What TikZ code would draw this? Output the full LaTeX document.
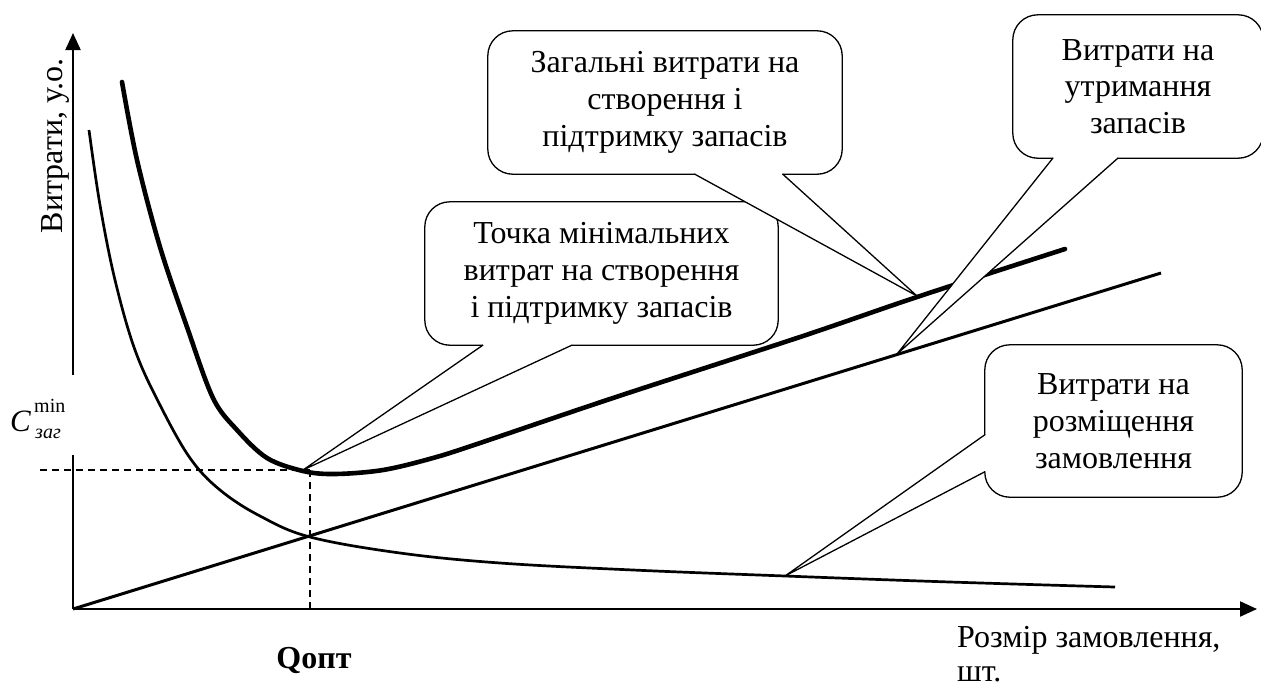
\documentclass[tikz,border=0pt]{standalone}
\usepackage{fontspec}
\setmainfont{Liberation Serif}
\usetikzlibrary{arrows.meta,calc}
\begin{document}
\begin{tikzpicture}[x=1pt,y=-1pt,
  lbl/.style={font=\fontsize{32}{36.8}\selectfont, inner sep=0pt},
  axisline/.style={line width=2.2pt},
  arr/.style={-{Triangle[length=17pt,width=15pt]}},
  thincurve/.style={line width=2.7pt, line join=round},
  thickcurve/.style={line width=4.6pt, line join=round, line cap=round},
  holdline/.style={line width=3pt},
  dashline/.style={line width=1.4pt, dash pattern=on 7pt off 5pt},
  callbox/.style={fill=white, draw=none, rounded corners=25pt, inner sep=0pt,
     align=center, font=\fontsize{32}{36.8}\selectfont},
  cl/.style={line width=1.3pt, line join=round, line cap=round},
  wedge/.style={fill=white}
]
\useasboundingbox (0,0) rectangle (1261,689);

% axes
\coordinate (O) at (73,609);
\coordinate (ytop) at (73,33);
\coordinate (xend) at (1257,609);
\draw[axisline] (O) -- (73,455);
\draw[axisline,arr] (73,375) -- (ytop);
\draw[axisline,arr] (O) -- (xend);

% dashed guides
\coordinate (qmin) at (310,470);
\draw[dashline] (40,470) -- (qmin);
\draw[dashline] (qmin) -- (310,609);

% holding cost line
\coordinate (hend) at (1161,273);
\draw[holdline] (O) -- (hend);

% ordering cost curve
\draw[thincurve] plot[smooth, tension=0.6] coordinates {
 (89,130) (100,205) (115,280) (135,350) (160,405) (190,458) (220,490) (260,516)
 (310,537) (400,553) (500,563) (633,570) (785,576) (950,582) (1115,587)};

% total cost curve
\draw[thickcurve] plot[smooth, tension=0.55] coordinates {
 (122,82) (137,160) (160,247) (187,327) (213,398) (237,430) (267,458) (303,471)
 (335,474) (383,470) (433,458) (480,443) (613,398) (800,337) (917,297) (1065,249)};

% tips
\coordinate (t1) at (917,296);
\coordinate (t2) at (897,354);
\coordinate (t3) at (303,470);
\coordinate (t4) at (785,576);

% callout 3
\node[callbox, minimum width=353pt, minimum height=143pt] (c3) at (601.5,273.5)
  {Точка мінімальних\\витрат на створення\\і підтримку запасів};
\coordinate (c3a) at ($(c3.south west)+(58,0)$);
\coordinate (c3b) at ($(c3.south west)+(147,0)$);
\fill[wedge] (c3a) -- (t3) -- (c3b) -- cycle;
\draw[cl, rounded corners=25pt] (c3a) -- (c3.south west) -- (c3.north west) -- (c3.north east) -- (c3.south east) -- (c3b);
\draw[cl] (c3a) -- (t3) -- (c3b);

% callout 4
\node[callbox, minimum width=257pt, minimum height=152pt] (c4) at (1113.5,421)
  {Витрати на\\розміщення\\замовлення};
\coordinate (c4a) at ($(c4.north west)+(0,90)$);
\coordinate (c4b) at ($(c4.north west)+(0,127)$);
\fill[wedge] (c4a) -- (t4) -- (c4b) -- cycle;
\draw[cl, rounded corners=25pt] (c4a) -- (c4.north west) -- (c4.north east) -- (c4.south east) -- (c4.south west) -- (c4b);
\draw[cl] (c4a) -- (t4) -- (c4b);

% callout 1
\node[callbox, minimum width=354pt, minimum height=143pt] (c1) at (665,102.5)
  {Загальні витрати на\\створення і\\підтримку запасів};
\coordinate (c1a) at ($(c1.south west)+(207,0)$);
\coordinate (c1b) at ($(c1.south west)+(295,0)$);
\fill[wedge] (c1a) -- (t1) -- (c1b) -- cycle;
\draw[cl, rounded corners=25pt] (c1a) -- (c1.south west) -- (c1.north west) -- (c1.north east) -- (c1.south east) -- (c1b);
\draw[cl] (c1a) -- (t1) -- (c1b);

% callout 2
\node[callbox, minimum width=250pt, minimum height=143pt] (c2) at (1138,86.5)
  {Витрати на\\утримання\\запасів};
\coordinate (c2a) at ($(c2.south west)+(40,0)$);
\coordinate (c2b) at ($(c2.south west)+(105,0)$);
\fill[wedge] (c2a) -- (t2) -- (c2b) -- cycle;
\draw[cl, rounded corners=25pt] (c2a) -- (c2.south west) -- (c2.north west) -- (c2.north east) -- (c2.south east) -- (c2b);
\draw[cl] (c2a) -- (t2) -- (c2b);

% axis labels
\node[lbl, rotate=90, anchor=base] (ylab) at (62,146) {Витрати, у.о.};
\node[lbl, anchor=base west] (xlab1) at (957,647) {Розмір замовлення,};
\node[lbl, anchor=base west] (xlab2) at (957,681) {шт.};
\node[lbl, anchor=base, font=\fontsize{32}{36.8}\selectfont\bfseries] (qopt) at (314,668) {Qопт};
\node[inner sep=0pt, anchor=base west, font=\fontsize{31}{36}\selectfont\itshape] (cC) at (10,431) {C};
\node[inner sep=0pt, anchor=base west, font=\fontsize{20}{24}\selectfont] (cmin) at (34,412) {min};
\node[inner sep=0pt, anchor=base west, font=\fontsize{20}{24}\selectfont\itshape] (czag) at (35,438) {заг};
\end{tikzpicture}
\end{document}
